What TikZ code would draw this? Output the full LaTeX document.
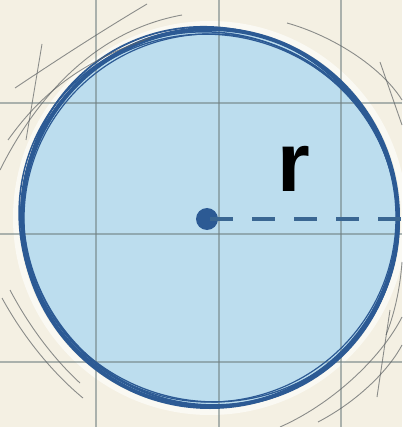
\documentclass[tikz,border=0pt]{standalone}
\usepackage{fontspec}
\setmainfont{Liberation Sans}
\definecolor{paper}{HTML}{F4F0E3}
\definecolor{fillblue}{HTML}{BCDDEE}
\definecolor{inkblue}{HTML}{2C5A94}
\definecolor{dashblue}{HTML}{3A6692}
\definecolor{gridgray}{HTML}{6F7F80}
\definecolor{sketch}{HTML}{5E6264}
\tikzset{
  gridline/.style={draw=gridgray, line width=1.1pt, opacity=0.55},
  rim/.style={draw=inkblue, line width=#1},
  sketchline/.style={draw=sketch, line width=0.9pt, opacity=0.7},
}
\begin{document}
\begin{tikzpicture}[x=1pt,y=-1pt]
\useasboundingbox (0,0) rectangle (402,427);
\fill[paper] (0,0) rectangle (402,427);
% filled disc with faint white halo
\draw[white, line width=6pt, opacity=0.6] (210,218) ellipse [x radius=194, y radius=194];
\fill[fillblue] (210,218) ellipse [x radius=190, y radius=190.5];
% grid
\foreach \gx in {96,219,341} \draw[gridline] (\gx,0) -- (\gx,427);
\foreach \gy in {103,234,362} \draw[gridline] (0,\gy) -- (402,\gy);
% sketchy rim
\draw[rim=4pt] (210,218) ellipse [x radius=188, y radius=189];
\draw[rim=1.8pt, rotate around={35:(210,218)}] (211,217) ellipse [x radius=185, y radius=192];
\draw[rim=1.5pt, rotate around={-30:(210,218)}] (209,219) ellipse [x radius=191, y radius=185];
\draw[rim=1.3pt, rotate around={70:(210,218)}] (210,218) ellipse [x radius=183, y radius=190];
\draw[rim=1.2pt, rotate around={10:(210,218)}] (210,218) ellipse [x radius=186, y radius=184];
% outer pencil sketch strokes
\draw[sketchline] (0,170) .. controls (40,90) and (100,30) .. (182,15);
\draw[sketchline] (15,88) .. controls (60,58) and (100,32) .. (147,4);
\draw[sketchline] (42,44) -- (26,140);
\draw[sketchline] (8,140) .. controls (40,95) and (80,62) .. (150,38);
\draw[sketchline] (287,23) .. controls (330,35) and (380,65) .. (402,100);
\draw[sketchline] (380,62) -- (402,125);
\draw[sketchline] (402,262) .. controls (400,290) and (394,315) .. (386,335);
\draw[sketchline] (2,298) .. controls (25,340) and (55,375) .. (83,398);
\draw[sketchline] (10,290) .. controls (30,328) and (55,360) .. (80,383);
\draw[sketchline] (280,427) .. controls (330,405) and (380,360) .. (402,317);
\draw[sketchline] (318,422) .. controls (360,400) and (390,368) .. (402,345);
\draw[sketchline] (377,397) -- (390,310);
% centre, radius, label
\node[circle, fill=inkblue, minimum size=22pt, inner sep=0pt] (c) at (207,219) {};
\coordinate (edge) at (402,219);
\draw[dashblue, line width=4.5pt, dash pattern=on 23pt off 19pt, dash phase=-3pt] (c.center) -- (edge);
\node[font=\fontsize{84}{84}\selectfont\bfseries, text=black, inner sep=0pt] (r) at (294,169) {r};
\end{tikzpicture}
\end{document}
